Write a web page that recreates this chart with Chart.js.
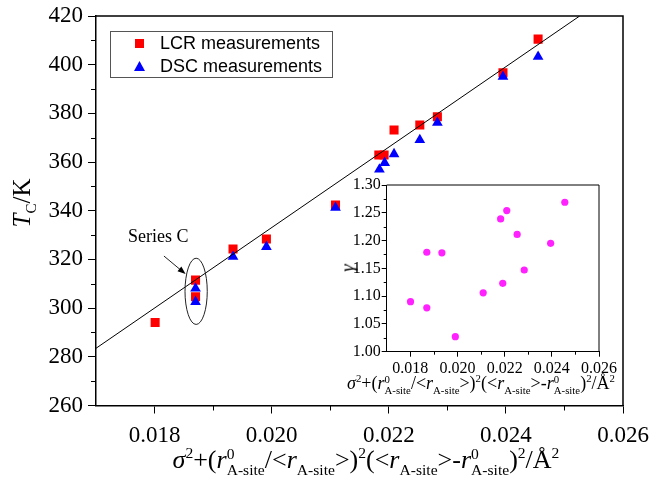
<!DOCTYPE html>
<html>
<head>
<meta charset="utf-8">
<script src="https://cdn.jsdelivr.net/npm/chart.js@4.4.0/dist/chart.umd.min.js"></script>
<style>
body { margin: 0; background: #fff; }
#wrap { position: relative; width: 649px; height: 479px; overflow: hidden; font-family: "Liberation Serif", serif; color: #000; }
canvas { position: absolute; }
.lbl { position: absolute; white-space: nowrap; line-height: 1; }
.ss { display: inline-block; font-size: 0.6em; line-height: 1; vertical-align: -0.45em; }
.ss span { display: block; }
sup, sub { font-size: 0.6em; line-height: 0; }
sub { vertical-align: -0.45em; }
#legend { position: absolute; left: 110px; top: 31px; width: 221px; height: 45px; border: 1px solid #555; font-family: "Liberation Sans", sans-serif; font-size: 18px; }
#legend div { position: absolute; left: 49px; white-space: nowrap; line-height: 1; }
.mk { position: absolute; width: 9px; height: 9px; }
</style>
</head>
<body>
<div id="wrap">
  <canvas id="main" width="649" height="479" style="left:0;top:0"></canvas>
  <canvas id="inset" width="300" height="205" style="left:330px;top:170px"></canvas>

  <div id="legend">
    <span class="mk" style="left:24px;top:7px;background:#ff0000"></span>
    <div style="top:2px">LCR measurements</div>
    <span class="mk" style="left:23px;top:29px;width:11px;height:10px;background:#0000ff;clip-path:polygon(50% 0,100% 100%,0 100%)"></span>
    <div style="top:25px">DSC measurements</div>
  </div>

  <div class="lbl" style="left:128px;top:227px;font-size:18px">Series C</div>

  <div class="lbl" style="left:21px;top:203px;font-size:25px;transform:translate(-50%,-50%) rotate(-90deg)"><i>T</i><sub>C</sub>/K</div>

  <div class="lbl" id="xt" style="left:366px;top:462px;font-size:26px;transform:translate(-50%,-50%)"></div>
  <div class="lbl" id="xti" style="left:481px;top:385px;font-size:18px;transform:translate(-50%,-50%)"></div>
  <div class="lbl" style="left:347px;top:268px;font-size:19px;transform:translate(-50%,-50%) rotate(-90deg)"><i>γ</i></div>
</div>
<script>
// composition parameter (x axis) for the LCR points and the inset
const xComp = [0.01801, 0.01870, 0.01870, 0.01934, 0.01991, 0.02109, 0.02183, 0.02192, 0.02209, 0.02253, 0.02283, 0.02395, 0.02455]
const tcLCR = [294.1, 311.5, 304.7, 324.3, 328.4, 342.4, 362.9, 362.9, 373.2, 375.2, 378.6, 396.7, 410.5]
const xDSC = [0.01870, 0.01870, 0.01934, 0.01991, 0.02109, 0.02184, 0.02193, 0.02209, 0.02253, 0.02283, 0.02395, 0.02455]
const tcDSC = [308.1, 302.6, 321.1, 325.2, 341.3, 357.0, 359.7, 363.3, 369.1, 376.2, 395.1, 403.3]
const gamma = [1.090, 1.179, 1.079, 1.178, 1.027, 1.106, 1.239, 1.123, 1.254, 1.211, 1.147, 1.195, 1.269]

// linear fit
const fitX = [0.0170, 0.02526]
const fitTc = [283.5, 420]

const xTicks = [0.018, 0.020, 0.022, 0.024, 0.026]
const tcTicks = [260, 280, 300, 320, 340, 360, 380, 400, 420]
const gammaTicks = [1.00, 1.05, 1.10, 1.15, 1.20, 1.25, 1.30]

// ellipse around series C and arrow
const seriesC = { x: 0.01871, tc: 306.9, dx: 0.00019, dtc: 13.6 }
const arrowFrom = [0.01816, 321.4]
const arrowTo = [0.01853, 314.0]

const formula = '<i>σ</i><sup>2</sup>+(<i>r</i><span class="ss"><span>0</span><span>A-site</span></span>/&lt;<i>r</i><sub>A-site</sub>&gt;)<sup>2</sup>(&lt;<i>r</i><sub>A-site</sub>&gt;-<i>r</i><span class="ss"><span>0</span><span>A-site</span></span>)<sup>2</sup>/Å<sup>2</sup>'
document.getElementById('xt').innerHTML = formula
document.getElementById('xti').innerHTML = formula

const SERIF = "'Liberation Serif', 'Times New Roman', serif"
Chart.defaults.font.family = SERIF
Chart.defaults.color = '#000'

const toPts = (xs, ys) => xs.map((v, i) => ({ x: v, y: ys[i] }))
const steps = (a, b, s) => {
    const out = []
    for (let i = 0; a + i * s <= b + s / 10; i++) out.push(+(a + i * s).toFixed(6))
    return out
}
// keep edge tick labels from shrinking the plot area
const noPad = s => { s.paddingLeft = 0; s.paddingRight = 0; s.paddingTop = 0; s.paddingBottom = 0 }

// box frame + minor ticks
const frameTicks = {
    id: 'frameTicks',
    afterDraw(chart, args, opts) {
        const { ctx, chartArea: a, scales } = chart
        ctx.save()
        ctx.strokeStyle = '#000'
        ctx.lineWidth = opts.width
        ctx.beginPath()
        ctx.moveTo(a.left, a.top)
        ctx.lineTo(a.right, a.top)
        ctx.lineTo(a.right, a.bottom)
        ctx.stroke()
        ctx.lineWidth = 1
        ctx.beginPath()
        opts.xMinor.forEach(v => {
            const px = Math.round(scales.x.getPixelForValue(v)) + 0.5
            ctx.moveTo(px, a.bottom)
            ctx.lineTo(px, a.bottom + opts.len)
        })
        opts.yMinor.forEach(v => {
            const py = Math.round(scales.y.getPixelForValue(v)) + 0.5
            ctx.moveTo(a.left, py)
            ctx.lineTo(a.left - opts.len, py)
        })
        ctx.stroke()
        ctx.restore()
    }
}

const seriesMark = {
    id: 'seriesMark',
    afterDatasetsDraw(chart) {
        const { ctx, scales: { x, y } } = chart
        const cx = x.getPixelForValue(seriesC.x)
        const cy = y.getPixelForValue(seriesC.tc)
        const rx = x.getPixelForValue(seriesC.x + seriesC.dx) - cx
        const ry = cy - y.getPixelForValue(seriesC.tc + seriesC.dtc)
        ctx.save()
        ctx.strokeStyle = '#222'
        ctx.lineWidth = 1
        ctx.beginPath()
        ctx.ellipse(cx, cy, rx, ry, 0, 0, Math.PI * 2)
        ctx.stroke()

        const x0 = x.getPixelForValue(arrowFrom[0]), y0 = y.getPixelForValue(arrowFrom[1])
        const x1 = x.getPixelForValue(arrowTo[0]), y1 = y.getPixelForValue(arrowTo[1])
        const ang = Math.atan2(y1 - y0, x1 - x0)
        ctx.beginPath()
        ctx.moveTo(x0, y0)
        ctx.lineTo(x1 - 5 * Math.cos(ang), y1 - 5 * Math.sin(ang))
        ctx.stroke()
        ctx.fillStyle = '#000'
        ctx.beginPath()
        ctx.moveTo(x1, y1)
        ctx.lineTo(x1 - 8 * Math.cos(ang) + 3 * Math.sin(ang), y1 - 8 * Math.sin(ang) - 3 * Math.cos(ang))
        ctx.lineTo(x1 - 8 * Math.cos(ang) - 3 * Math.sin(ang), y1 - 8 * Math.sin(ang) + 3 * Math.cos(ang))
        ctx.closePath()
        ctx.fill()
        ctx.restore()
    }
}

new Chart(document.getElementById('main'), {
    type: 'scatter',
    data: {
        datasets: [
            {
                label: 'LCR measurements',
                data: toPts(xComp, tcLCR),
                pointStyle: 'rect',
                radius: 6.4,
                backgroundColor: '#ff0000',
                borderColor: '#ff0000',
                borderWidth: 0,
                order: 2
            },
            {
                label: 'DSC measurements',
                data: toPts(xDSC, tcDSC),
                pointStyle: 'triangle',
                radius: 6.2,
                backgroundColor: '#0000ff',
                borderColor: '#0000ff',
                borderWidth: 0,
                order: 1
            },
            {
                type: 'line',
                label: 'fit',
                data: toPts(fitX, fitTc),
                borderColor: '#000',
                borderWidth: 1,
                pointRadius: 0,
                fill: false,
                order: 0
            }
        ]
    },
    options: {
        responsive: false,
        animation: false,
        events: [],
        layout: { padding: { top: 16, right: 26, left: 0, bottom: 0 } },
        plugins: {
            legend: { display: false },
            tooltip: { enabled: false },
            frameTicks: { width: 1.5, len: 5, xMinor: steps(0.019, 0.025, 0.002), yMinor: steps(270, 410, 20) }
        },
        scales: {
            x: {
                type: 'linear',
                min: 0.017,
                max: 0.026,
                afterBuildTicks: s => { s.ticks = xTicks.map(v => ({ value: v })) },
                afterFit: s => { s.height = 73.5; noPad(s) },
                ticks: { font: { family: SERIF, size: 23 }, padding: 9, maxRotation: 0, callback: v => v.toFixed(3) },
                grid: { drawOnChartArea: false, tickLength: 8, tickColor: '#000', tickWidth: 1 },
                border: { color: '#000', width: 1.5 }
            },
            y: {
                min: 260,
                max: 420,
                afterBuildTicks: s => { s.ticks = tcTicks.map(v => ({ value: v })) },
                afterFit: s => { s.width = 96; noPad(s) },
                ticks: { font: { family: SERIF, size: 23 }, padding: 5 },
                grid: { drawOnChartArea: false, tickLength: 8, tickColor: '#000', tickWidth: 1 },
                border: { color: '#000', width: 1.5 }
            }
        }
    },
    plugins: [frameTicks, seriesMark]
})

new Chart(document.getElementById('inset'), {
    type: 'scatter',
    data: {
        datasets: [{
            label: 'gamma',
            data: toPts(xComp, gamma),
            pointStyle: 'circle',
            radius: 3.6,
            backgroundColor: '#ff22ff',
            borderWidth: 0
        }]
    },
    options: {
        responsive: false,
        animation: false,
        events: [],
        layout: { padding: { top: 15, right: 31, left: 0, bottom: 0 } },
        plugins: {
            legend: { display: false },
            tooltip: { enabled: false },
            frameTicks: { width: 1, len: 3, xMinor: steps(0.019, 0.025, 0.002), yMinor: steps(1.025, 1.275, 0.05) }
        },
        scales: {
            x: {
                type: 'linear',
                min: 0.017,
                max: 0.026,
                afterBuildTicks: s => { s.ticks = xTicks.map(v => ({ value: v })) },
                afterFit: s => { s.height = 23.3; noPad(s) },
                ticks: { font: { family: SERIF, size: 16 }, padding: 2, maxRotation: 0, callback: v => v.toFixed(3) },
                grid: { drawOnChartArea: false, tickLength: 5, tickColor: '#000' },
                border: { color: '#000', width: 1 }
            },
            y: {
                min: 1.0,
                max: 1.3,
                afterBuildTicks: s => { s.ticks = gammaTicks.map(v => ({ value: v })) },
                afterFit: s => { s.width = 56.7; noPad(s) },
                ticks: { font: { family: SERIF, size: 16 }, padding: 1, callback: v => v.toFixed(2) },
                grid: { drawOnChartArea: false, tickLength: 5, tickColor: '#000' },
                border: { color: '#000', width: 1 }
            }
        }
    },
    plugins: [frameTicks]
})
</script>
</body>
</html>
